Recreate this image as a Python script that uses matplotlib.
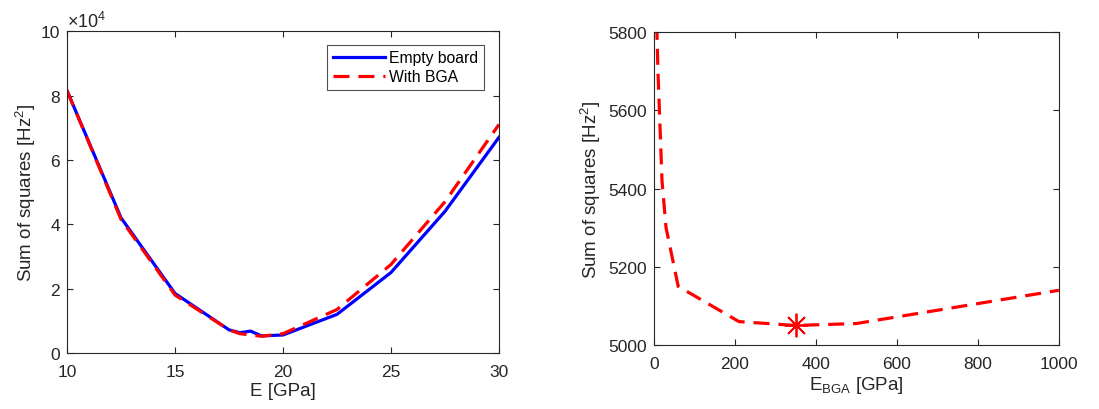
import numpy as np
import matplotlib.pyplot as plt
from matplotlib.ticker import FuncFormatter

plt.rcParams['font.family'] = ['Liberation Sans', 'DejaVu Sans']
plt.rcParams['mathtext.default'] = 'regular'

# left panel: sum of squares vs E
e_empty = [10, 12.5, 15, 17.5, 18, 18.5, 19, 20, 22.5, 25, 27.5, 30]
ss_empty = [8.15e4, 4.2e4, 1.85e4, 0.72e4, 0.63e4, 0.68e4, 0.53e4, 0.56e4, 1.2e4, 2.5e4, 4.4e4, 6.7e4]
e_bga = [10, 12.5, 15, 17.5, 18, 19, 20, 22.5, 25, 27.5, 30]
ss_bga = [8.15e4, 4.15e4, 1.8e4, 0.72e4, 0.6e4, 0.52e4, 0.6e4, 1.35e4, 2.75e4, 4.7e4, 7.1e4]

# right panel: sum of squares vs E_BGA
e_ball = [5, 10, 20, 30, 60, 210, 350, 500, 1000]
ss_ball = [5900, 5700, 5420, 5300, 5150, 5060, 5050, 5055, 5140]
best_e, best_ss = 350, 5050

axis_col = '#262626'
fig = plt.figure(figsize=(10.99, 4.10), dpi=100)

def style(ax):
    for s in ax.spines.values():
        s.set_color(axis_col)
        s.set_linewidth(0.8)
    ax.tick_params(direction='in', top=True, right=True, length=4, width=0.8,
                   colors=axis_col, labelsize=12.5, labelcolor=axis_col, pad=5)
    ax.tick_params(axis='x', pad=8)

ax1 = fig.add_axes([0.061, 0.1366, 0.393, 0.785])
ax1.plot(e_empty, ss_empty, color='#0000ff', lw=2.3, label='Empty board')
ax1.plot(e_bga, ss_bga, color='#ff0000', lw=2.3, dashes=(5, 2.8), label='With BGA')
ax1.set_xlim(10, 30)
ax1.set_ylim(0, 1e5)
ax1.set_xticks([10, 15, 20, 25, 30])
ax1.set_yticks(np.arange(0, 1.01e5, 2e4))
ax1.yaxis.set_major_formatter(FuncFormatter(lambda v, p: '%g' % (v / 1e4)))
ax1.text(0.0, 1.0, r'$\times10^4$', transform=ax1.transAxes, fontsize=13,
         color=axis_col, ha='left', va='bottom')
ax1.set_xlabel('E [GPa]', fontsize=13.5, color=axis_col, labelpad=2)
ax1.set_ylabel('Sum of squares [Hz$^2$]', fontsize=13.5, color=axis_col, labelpad=2)
style(ax1)
leg = ax1.legend(loc='upper right', fontsize=11.3, handlelength=3.3, frameon=True,
                 fancybox=False, borderpad=0.35, labelspacing=0.25, handletextpad=0.3,
                 bbox_to_anchor=(0.965, 0.957), borderaxespad=0)
leg.get_frame().set_edgecolor(axis_col)
leg.get_frame().set_linewidth(0.8)

ax2 = fig.add_axes([0.595, 0.156, 0.3685, 0.763])
ax2.plot(e_ball, ss_ball, color='#ff0000', lw=2.3, dashes=(5, 2.8))
ax2.plot([best_e], [best_ss], color='#ff0000', marker=(8, 2, 0), ms=17, mew=1.3,
         linestyle='none')
ax2.set_xlim(0, 1000)
ax2.set_ylim(5000, 5800)
ax2.set_xticks(np.arange(0, 1001, 200))
ax2.set_yticks(np.arange(5000, 5801, 200))
ax2.set_xlabel('E$_{BGA}$ [GPa]', fontsize=13.5, color=axis_col, labelpad=2)
ax2.set_ylabel('Sum of squares [Hz$^2$]', fontsize=13.5, color=axis_col, labelpad=4)
style(ax2)

fig.savefig('out.png', dpi=100)
